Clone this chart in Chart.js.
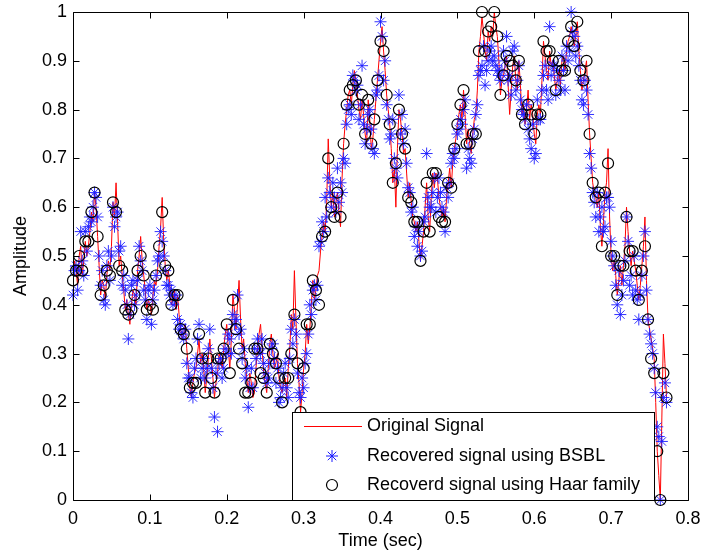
<!DOCTYPE html>
<html>
<head>
<meta charset="utf-8">
<script src="https://cdn.jsdelivr.net/npm/chart.js@4/dist/chart.umd.min.js"></script>
<style>
  html, body { margin: 0; padding: 0; background: #fff; }
  #wrap { width: 709px; height: 556px; }
</style>
</head>
<body>
<div id="wrap"><canvas id="c" width="709" height="556"></canvas></div>
<script>
// Time axis (seconds), main samples
const time = [
0.000,0.004,0.008,0.012,0.016,0.020,0.024,0.028,0.032,0.036,0.040,0.044,0.048,0.052,0.056,0.060,0.064,0.068,0.072,0.076,
0.080,0.084,0.088,0.092,0.096,0.100,0.104,0.108,0.112,0.116,0.120,0.124,0.128,0.132,0.136,0.140,0.144,0.148,0.152,0.156,
0.160,0.164,0.168,0.172,0.176,0.180,0.184,0.188,0.192,0.196,0.200,0.204,0.208,0.212,0.216,0.220,0.224,0.228,0.232,0.236,
0.240,0.244,0.248,0.252,0.256,0.260,0.264,0.268,0.272,0.276,0.280,0.284,0.288,0.292,0.296,0.300,0.304,0.308,0.312,0.316,
0.320,0.324,0.328,0.332,0.336,0.340,0.344,0.348,0.352,0.356,0.360,0.364,0.368,0.372,0.376,0.380,0.384,0.388,0.392,0.396,
0.400,0.404,0.408,0.412,0.416,0.420,0.424,0.428,0.432,0.436,0.440,0.444,0.448,0.452,0.456,0.460,0.464,0.468,0.472,0.476,
0.480,0.484,0.488,0.492,0.496,0.500,0.504,0.508,0.512,0.516,0.520,0.524,0.528,0.532,0.536,0.540,0.544,0.548,0.552,0.556,
0.560,0.564,0.568,0.572,0.576,0.580,0.584,0.588,0.592,0.596,0.600,0.604,0.608,0.612,0.616,0.620,0.624,0.628,0.632,0.636,
0.640,0.644,0.648,0.652,0.656,0.660,0.664,0.668,0.672,0.676,0.680,0.684,0.688,0.692,0.696,0.700,0.704,0.708,0.712,0.716,
0.720,0.724,0.728,0.732,0.736,0.740,0.744,0.748,0.752,0.756,0.760,0.764,0.768,0.772
];

// Time axis (seconds), in-between samples
const timeMid = [
0.002,0.006,0.010,0.014,0.018,0.022,0.026,0.030,0.034,0.038,0.042,0.046,0.050,0.054,0.058,0.062,0.066,0.070,0.074,0.078,
0.082,0.086,0.090,0.094,0.098,0.102,0.106,0.110,0.114,0.118,0.122,0.126,0.130,0.134,0.138,0.142,0.146,0.150,0.154,0.158,
0.162,0.166,0.170,0.174,0.178,0.182,0.186,0.190,0.194,0.198,0.202,0.206,0.210,0.214,0.218,0.222,0.226,0.230,0.234,0.238,
0.242,0.246,0.250,0.254,0.258,0.262,0.266,0.270,0.274,0.278,0.282,0.286,0.290,0.294,0.298,0.302,0.306,0.310,0.314,0.318,
0.322,0.326,0.330,0.334,0.338,0.342,0.346,0.350,0.354,0.358,0.362,0.366,0.370,0.374,0.378,0.382,0.386,0.390,0.394,0.398,
0.402,0.406,0.410,0.414,0.418,0.422,0.426,0.430,0.434,0.438,0.442,0.446,0.450,0.454,0.458,0.462,0.466,0.470,0.474,0.478,
0.482,0.486,0.490,0.494,0.498,0.502,0.506,0.510,0.514,0.518,0.522,0.526,0.530,0.534,0.538,0.542,0.546,0.550,0.554,0.558,
0.562,0.566,0.570,0.574,0.578,0.582,0.586,0.590,0.594,0.598,0.602,0.606,0.610,0.614,0.618,0.622,0.626,0.630,0.634,0.638,
0.642,0.646,0.650,0.654,0.658,0.662,0.666,0.670,0.674,0.678,0.682,0.686,0.690,0.694,0.698,0.702,0.706,0.710,0.714,0.718,
0.722,0.726,0.730,0.734,0.738,0.742,0.746,0.750,0.754,0.758,0.762,0.766,0.770
];

// Original signal (red line) at main samples
const original = [
0.45,0.47,0.50,0.46,0.53,0.52,0.59,0.63,0.54,0.42,0.44,0.46,0.47,0.61,0.65,0.48,0.46,0.39,0.38,0.40,
0.42,0.47,0.54,0.46,0.39,0.40,0.42,0.44,0.52,0.62,0.48,0.47,0.40,0.43,0.42,0.35,0.34,0.31,0.23,0.24,
0.27,0.33,0.30,0.22,0.29,0.29,0.21,0.26,0.29,0.31,0.36,0.27,0.42,0.35,0.45,0.31,0.28,0.22,0.24,0.22,
0.31,0.36,0.26,0.22,0.32,0.30,0.28,0.25,0.22,0.25,0.27,0.38,0.47,0.28,0.18,0.27,0.36,0.35,0.45,0.43,
0.47,0.54,0.55,0.74,0.60,0.58,0.63,0.56,0.73,0.80,0.84,0.85,0.86,0.80,0.82,0.75,0.82,0.72,0.78,0.86,
0.94,0.92,0.83,0.77,0.65,0.60,0.80,0.75,0.72,0.62,0.61,0.57,0.57,0.49,0.55,0.65,0.55,0.67,0.67,0.62,
0.58,0.57,0.65,0.64,0.72,0.77,0.81,0.84,0.73,0.73,0.75,0.79,0.92,0.99,0.92,0.96,0.97,1.00,0.95,0.83,
0.87,0.91,0.79,0.89,0.86,0.90,0.79,0.77,0.84,0.81,0.75,0.79,0.79,0.94,0.88,0.92,0.90,0.84,0.88,0.90,
0.88,0.94,0.97,0.93,0.98,0.88,0.86,0.90,0.75,0.65,0.62,0.63,0.52,0.63,0.72,0.50,0.49,0.42,0.48,0.48,
0.60,0.51,0.51,0.47,0.41,0.48,0.58,0.37,0.33,0.29,0.10,0.00,0.34,0.21
];

// Original signal (red line) at in-between samples
const originalMid = [
0.49,0.44,0.52,0.49,0.50,0.55,0.57,0.60,0.48,0.45,0.41,0.49,0.52,0.58,0.57,0.50,0.43,0.41,0.36,0.43,
0.40,0.50,0.49,0.43,0.41,0.38,0.45,0.47,0.56,0.53,0.45,0.44,0.41,0.39,0.38,0.33,0.36,0.27,0.21,0.26,
0.30,0.28,0.27,0.25,0.33,0.25,0.24,0.30,0.27,0.34,0.31,0.33,0.39,0.40,0.37,0.33,0.25,0.26,0.21,0.27,
0.34,0.31,0.24,0.27,0.34,0.27,0.30,0.23,0.24,0.21,0.31,0.35,0.37,0.24,0.22,0.30,0.32,0.40,0.41,0.46,
0.51,0.57,0.61,0.66,0.63,0.61,0.59,0.66,0.77,0.83,0.81,0.88,0.83,0.78,0.79,0.73,0.78,0.74,0.82,0.90,
0.97,0.88,0.80,0.72,0.68,0.72,0.78,0.71,0.67,0.65,0.58,0.55,0.53,0.52,0.60,0.58,0.62,0.64,0.66,0.60,
0.60,0.62,0.68,0.69,0.74,0.79,0.78,0.79,0.76,0.71,0.78,0.84,0.95,0.96,0.90,0.94,0.95,0.97,0.90,0.86,
0.89,0.85,0.84,0.91,0.84,0.85,0.81,0.80,0.78,0.79,0.73,0.81,0.86,0.91,0.86,0.89,0.87,0.86,0.85,0.91,
0.92,0.95,0.95,0.95,0.92,0.84,0.88,0.82,0.70,0.63,0.60,0.56,0.57,0.65,0.58,0.47,0.46,0.45,0.44,0.52,
0.55,0.48,0.49,0.44,0.44,0.52,0.45,0.35,0.31,0.20,0.05,0.17,0.28
];

// Recovered signal using BSBL (blue stars) at main samples
const bsbl = [
0.42,0.48,0.47,0.49,0.55,0.56,0.57,0.63,0.58,0.44,0.41,0.48,0.45,0.60,0.58,0.51,0.44,0.43,0.33,0.44,
0.40,0.45,0.49,0.43,0.37,0.44,0.41,0.46,0.50,0.53,0.47,0.44,0.43,0.41,0.37,0.36,0.33,0.28,0.25,0.21,
0.29,0.36,0.27,0.25,0.31,0.27,0.17,0.14,0.29,0.27,0.30,0.33,0.38,0.37,0.34,0.29,0.25,0.19,0.27,0.31,
0.33,0.30,0.28,0.24,0.28,0.32,0.24,0.20,0.23,0.28,0.21,0.35,0.37,0.26,0.21,0.23,0.30,0.40,0.43,0.41,
0.52,0.57,0.62,0.66,0.60,0.62,0.68,0.65,0.70,0.77,0.81,0.87,0.84,0.78,0.89,0.73,0.79,0.76,0.71,0.84,
0.98,0.86,0.81,0.74,0.78,0.68,0.83,0.79,0.76,0.64,0.59,0.54,0.52,0.50,0.57,0.71,0.60,0.63,0.59,0.66,
0.60,0.55,0.62,0.69,0.70,0.75,0.78,0.80,0.68,0.70,0.74,0.79,0.87,0.89,0.85,0.90,0.93,0.91,0.88,0.86,
0.92,0.95,0.87,0.92,0.84,0.89,0.80,0.78,0.76,0.72,0.70,0.82,0.78,0.87,0.84,0.97,0.89,0.83,0.86,0.91,
0.84,0.90,1.00,0.95,0.93,0.86,0.81,0.84,0.71,0.63,0.58,0.55,0.60,0.56,0.62,0.53,0.48,0.40,0.38,0.45,
0.58,0.44,0.42,0.43,0.37,0.46,0.55,0.37,0.32,0.27,0.15,0.00,0.21,0.20
];

// Recovered signal using BSBL (blue stars) at in-between samples
const bsblMid = [
0.47,0.43,0.55,0.46,0.51,0.58,0.60,0.62,0.50,0.47,0.40,0.51,0.50,0.56,0.59,0.52,0.46,0.40,0.38,0.45,
0.42,0.52,0.47,0.41,0.43,0.36,0.43,0.49,0.55,0.50,0.44,0.42,0.40,0.42,0.35,0.34,0.35,0.25,0.22,0.27,
0.33,0.25,0.29,0.27,0.35,0.23,0.26,0.28,0.25,0.31,0.34,0.30,0.36,0.42,0.35,0.31,0.27,0.23,0.23,0.29,
0.31,0.33,0.26,0.25,0.31,0.29,0.27,0.21,0.26,0.23,0.29,0.32,0.34,0.22,0.25,0.28,0.34,0.38,0.44,0.44,
0.53,0.55,0.58,0.63,0.65,0.59,0.61,0.63,0.69,0.80,0.79,0.86,0.85,0.81,0.77,0.76,0.80,0.72,0.83,0.87,
0.95,0.90,0.78,0.75,0.70,0.66,0.75,0.73,0.69,0.63,0.60,0.56,0.55,0.51,0.58,0.62,0.60,0.66,0.62,0.63,
0.59,0.64,0.65,0.71,0.72,0.76,0.77,0.82,0.72,0.69,0.76,0.81,0.88,0.93,0.88,0.92,0.90,0.89,0.87,0.88,
0.90,0.86,0.83,0.93,0.86,0.82,0.79,0.81,0.74,0.77,0.71,0.78,0.84,0.89,0.82,0.87,0.89,0.88,0.84,0.88,
0.93,0.92,0.96,0.91,0.89,0.82,0.86,0.79,0.68,0.61,0.63,0.58,0.55,0.62,0.60,0.50,0.44,0.47,0.42,0.49,
0.53,0.46,0.50,0.41,0.42,0.50,0.43,0.34,0.30,0.22,0.13,0.12,0.24
];

// Recovered signal using Haar family (black circles) at main samples
const haar = [
0.45,0.47,0.50,0.47,0.53,0.53,0.59,0.63,0.54,0.42,0.44,0.47,0.46,0.61,0.59,0.48,0.47,0.39,0.38,0.39,
0.42,0.47,0.50,0.46,0.39,0.40,0.39,0.46,0.52,0.59,0.48,0.47,0.40,0.42,0.42,0.35,0.34,0.31,0.23,0.24,
0.24,0.34,0.29,0.22,0.29,0.25,0.22,0.29,0.29,0.31,0.36,0.26,0.41,0.35,0.31,0.28,0.22,0.22,0.24,0.31,
0.31,0.26,0.25,0.22,0.32,0.30,0.28,0.25,0.20,0.25,0.25,0.30,0.38,0.28,0.18,0.27,0.36,0.36,0.45,0.43,
0.40,0.54,0.55,0.70,0.60,0.58,0.63,0.58,0.73,0.81,0.84,0.85,0.86,0.81,0.83,0.75,0.82,0.73,0.78,0.86,
0.94,0.92,0.83,0.77,0.65,0.69,0.80,0.75,0.72,0.62,0.61,0.57,0.57,0.49,0.55,0.65,0.55,0.67,0.67,0.58,
0.57,0.57,0.65,0.64,0.72,0.77,0.81,0.84,0.73,0.73,0.75,0.75,0.92,1.00,0.92,0.96,0.97,1.00,0.95,0.83,
0.87,0.91,0.90,0.89,0.86,0.90,0.79,0.77,0.81,0.79,0.75,0.79,0.79,0.94,0.92,0.92,0.90,0.84,0.90,0.88,
0.88,0.94,0.97,0.93,0.98,0.88,0.86,0.90,0.75,0.65,0.62,0.63,0.52,0.63,0.69,0.50,0.50,0.42,0.48,0.48,
0.58,0.51,0.51,0.47,0.41,0.47,0.52,0.37,0.29,0.26,0.10,0.00,0.26,0.21
];

const xTicks = ['0','0.1','0.2','0.3','0.4','0.5','0.6','0.7','0.8'];
const yTicks = ['0','0.1','0.2','0.3','0.4','0.5','0.6','0.7','0.8','0.9','1'];
const seriesNames = ['Original Signal','Recovered signal using BSBL','Recoverd signal using Haar family'];

const FONT = '"Liberation Sans", Arial, sans-serif';

// merge main + in-between samples in time order
function merged(main, mid) {
  const out = [];
  main.forEach((v, i) => {
    out.push({ x: time[i], y: v });
    if (i < mid.length) out.push({ x: timeMid[i], y: mid[i] });
  });
  return out;
}
const pts = arr => arr.map((v, i) => ({ x: time[i], y: v }));

const matlabAxes = {
  id: 'matlabAxes',
  afterDatasetsDraw(chart) {
    const { ctx, chartArea: a, scales } = chart;
    ctx.save();
    ctx.strokeStyle = '#000';
    ctx.lineWidth = 1;
    ctx.beginPath();
    const L = Math.round(a.left) + 0.5, R = Math.round(a.right) + 0.5;
    const T = Math.round(a.top) + 0.5, B = Math.round(a.bottom) + 0.5;
    ctx.rect(L, T, R - L, B - T);
    const tl = 6;
    xTicks.forEach(t => {
      const px = Math.round(scales.x.getPixelForValue(parseFloat(t))) + 0.5;
      ctx.moveTo(px, B); ctx.lineTo(px, B - tl);
      ctx.moveTo(px, T); ctx.lineTo(px, T + tl);
    });
    yTicks.forEach(t => {
      const py = Math.round(scales.y.getPixelForValue(parseFloat(t))) + 0.5;
      ctx.moveTo(L, py); ctx.lineTo(L + tl, py);
      ctx.moveTo(R, py); ctx.lineTo(R - tl, py);
    });
    ctx.stroke();
    ctx.restore();
  },
  afterDraw(chart) {
    const { ctx, chartArea: a } = chart;
    const ds = chart.data.datasets;
    ctx.save();
    const bx = 292.5, by = 412.5, bw = 362, bh = Math.round(a.bottom) - 412;
    ctx.fillStyle = '#fff';
    ctx.fillRect(bx, by, bw, bh);
    ctx.strokeStyle = '#000';
    ctx.lineWidth = 1;
    ctx.strokeRect(bx, by, bw, bh);
    ctx.font = '18px ' + FONT;
    ctx.textBaseline = 'middle';
    ctx.textAlign = 'left';
    const rows = [426, 456, 485];
    ctx.strokeStyle = ds[0].borderColor;
    ctx.lineWidth = 1;
    ctx.beginPath(); ctx.moveTo(304, rows[0] + 0.5); ctx.lineTo(362, rows[0] + 0.5); ctx.stroke();
    ctx.strokeStyle = ds[1].borderColor;
    ctx.fillStyle = ds[1].borderColor;
    Chart.helpers.drawPoint(ctx, { pointStyle: 'star', radius: ds[1].pointRadius, borderWidth: 0.9 }, 332, rows[1]);
    ctx.strokeStyle = ds[2].borderColor;
    ctx.lineWidth = 1.2;
    ctx.beginPath(); ctx.arc(332, rows[2], ds[2].pointRadius, 0, Math.PI * 2); ctx.stroke();
    ctx.fillStyle = '#000';
    seriesNames.forEach((n, i) => ctx.fillText(n, 367, rows[i]));
    ctx.restore();
  }
};

new Chart(document.getElementById('c'), {
  type: 'scatter',
  data: {
    datasets: [
      { label: seriesNames[0], data: merged(original, originalMid), showLine: true, borderColor: '#ff0000', borderWidth: 1,
        pointRadius: 0, tension: 0, order: 3 },
      { label: seriesNames[1], data: merged(bsbl, bsblMid), showLine: false, pointStyle: 'star', pointRadius: 6,
        borderColor: '#1a1aff', backgroundColor: '#1a1aff', pointBorderWidth: 0.9, order: 2, clip: false },
      { label: seriesNames[2], data: pts(haar), showLine: false, pointStyle: 'circle', pointRadius: 5.5,
        borderColor: '#000000', backgroundColor: 'rgba(0,0,0,0)', pointBorderWidth: 1.2, order: 1, clip: false }
    ]
  },
  options: {
    responsive: false,
    animation: false,
    devicePixelRatio: 1,
    layout: { padding: { left: 0, right: 21, top: 12, bottom: 0 } },
    plugins: { legend: { display: false }, tooltip: { enabled: false } },
    scales: {
      x: {
        type: 'linear', min: 0, max: 0.8,
        grid: { display: false, drawTicks: false },
        border: { display: false },
        ticks: { stepSize: 0.1, padding: 8, color: '#000', font: { size: 18, family: FONT },
          maxRotation: 0, autoSkip: false,
          callback: (v) => xTicks[Math.round(v * 10)] },
        title: { display: true, text: 'Time (sec)', color: '#000', font: { size: 18, family: FONT },
          padding: { top: 0, bottom: 4 } },
        afterFit: s => { s.height = 56; s.paddingLeft = 0; s.paddingRight = 0; }
      },
      y: {
        type: 'linear', min: 0, max: 1,
        grid: { display: false, drawTicks: false },
        border: { display: false },
        ticks: { stepSize: 0.1, padding: 6, color: '#000', font: { size: 18, family: FONT },
          autoSkip: false,
          callback: (v) => yTicks[Math.round(v * 10)] },
        title: { display: true, text: 'Amplitude', color: '#000', font: { size: 18, family: FONT },
          padding: { top: 10, bottom: 0 } },
        afterFit: s => { s.width = 73; s.paddingTop = 0; s.paddingBottom = 0; }
      }
    }
  },
  plugins: [matlabAxes]
});
</script>
</body>
</html>
